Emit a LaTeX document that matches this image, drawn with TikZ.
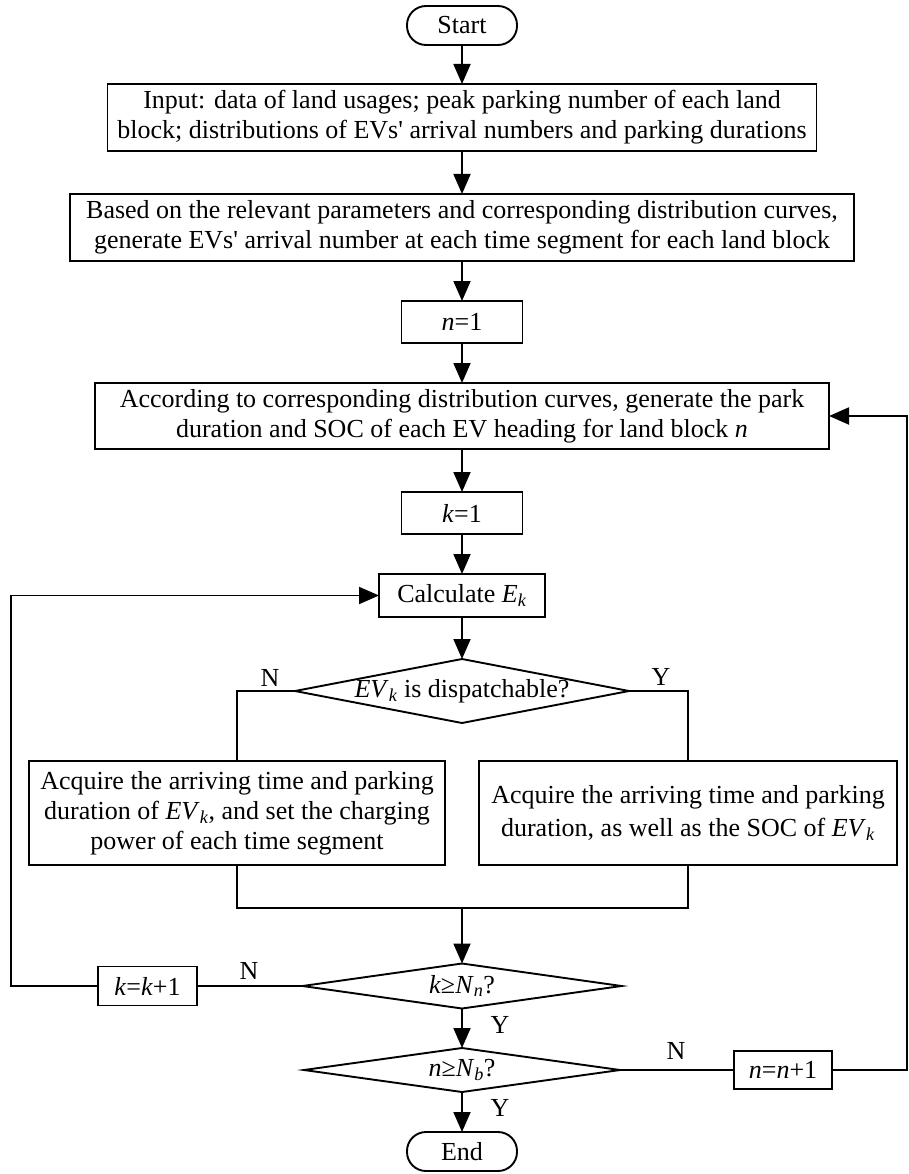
\documentclass[tikz,border=0pt]{standalone}
\usepackage{fontspec}
\setmainfont{Liberation Serif}[Ligatures=TeXOff]
\usetikzlibrary{arrows.meta,shapes.geometric}
\newcommand{\ivar}[1]{\textit{#1}}
\newcommand{\isub}[2]{\textit{#1}\textsubscript{\textit{#2}}}
\begin{document}
\begin{tikzpicture}[x=1pt,y=-1pt,
  every node/.style={font=\fontsize{26}{30}\selectfont},
  box/.style={draw,line width=1.9pt,inner sep=0pt,outer sep=0pt,align=center},
  term/.style={box,rounded corners=19pt},
  dia/.style={draw,diamond,line width=1.9pt,inner sep=0pt,outer sep=0pt},
  lbl/.style={inner sep=0pt},
  conn/.style={line width=1.9pt},
  arr/.style={conn,-{Triangle[length=20pt,width=17pt]}}]
\useasboundingbox (0,0) rectangle (909,1174);
\node[term,minimum width=110pt,minimum height=39pt] (start) at (462,25.5) {Start};
\node[box,minimum width=709pt,minimum height=67pt] (input) at (462,117.5)
  {Input: data of land usages; peak parking number of each land\\block; distributions of EVs' arrival numbers and parking durations};
\node[box,minimum width=784pt,minimum height=67pt] (based) at (462,227.5)
  {Based on the relevant parameters and corresponding distribution curves,\\generate EVs' arrival number at each time segment for each land block};
\node[box,minimum width=121pt,minimum height=42pt] (n1) at (462,322) {\ivar{n}=1};
\node[box,minimum width=734pt,minimum height=66pt] (accord) at (462,416)
  {According to corresponding distribution curves, generate the park\\duration and SOC of each EV heading for land block \ivar{n}};
\node[box,minimum width=121pt,minimum height=42pt] (k1) at (462,513) {\ivar{k}=1};
\node[box,minimum width=166pt,minimum height=43pt] (calc) at (462,595.5) {Calculate \isub{E}{k}};
\node[dia,minimum width=334pt,minimum height=64pt] (d1) at (462,691) {};
\node[lbl] (d1t) at (d1.center) {\isub{EV}{k} is dispatchable?};
\node[box,minimum width=416pt,minimum height=104pt] (accL) at (237,813)
  {Acquire the arriving time and parking\\duration of \isub{EV}{k}, and set the charging\\power of each time segment};
\node[box,minimum width=418pt,minimum height=104pt,font=\fontsize{26}{33}\selectfont] (accR) at (688,813)
  {Acquire the arriving time and parking\\duration, as well as the SOC of \isub{EV}{k}};
\coordinate (m) at (462,908);
\node[dia,minimum width=319pt,minimum height=45pt] (d2) at (462,986) {};
\node[lbl] (d2t) at (d2.center) {\ivar{k}≥\isub{N}{n}?};
\node[box,minimum width=99pt,minimum height=39pt] (kk) at (147.5,986) {\ivar{k}=\ivar{k}+1};
\coordinate (lc) at (11,986);
\node[dia,minimum width=316pt,minimum height=44pt] (d3) at (462,1070) {};
\node[lbl] (d3t) at (d3.center) {\ivar{n}≥\isub{N}{b}?};
\node[box,minimum width=98pt,minimum height=38pt] (nn) at (783,1070) {\ivar{n}=\ivar{n}+1};
\coordinate (rc) at (907,1070);
\node[term,minimum width=110pt,minimum height=39pt] (end) at (462,1151.5) {End};
% labels
\node[lbl] (l1) at (270,678) {N};
\node[lbl] (l2) at (661,677) {Y};
\node[lbl] (l3) at (249,971) {N};
\node[lbl] (l4) at (500,1025) {Y};
\node[lbl] (l5) at (676,1051) {N};
\node[lbl] (l6) at (500,1108) {Y};
% connectors
\draw[arr] (start) -- (input);
\draw[arr] (input) -- (based);
\draw[arr] (based) -- (n1);
\draw[arr] (n1) -- (accord);
\draw[arr] (accord) -- (k1);
\draw[arr] (k1) -- (calc);
\draw[arr] (calc) -- (d1.north);
\draw[conn] (d1.west) -| (accL.north);
\draw[conn] (d1.east) -| (accR.north);
\draw[conn] (accL.south) |- (m) -| (accR.south);
\draw[arr] (m) -- (d2.north);
\draw[conn] (d2.west) -- (kk.east);
\draw[arr] (kk.west) -- (lc) |- (calc.west);
\draw[arr] (d2.south) -- (d3.north);
\draw[conn] (d3.east) -- (nn.west);
\draw[arr] (nn.east) -- (rc) |- (accord.east);
\draw[arr] (d3.south) -- (end.north);
\end{tikzpicture}
\end{document}
